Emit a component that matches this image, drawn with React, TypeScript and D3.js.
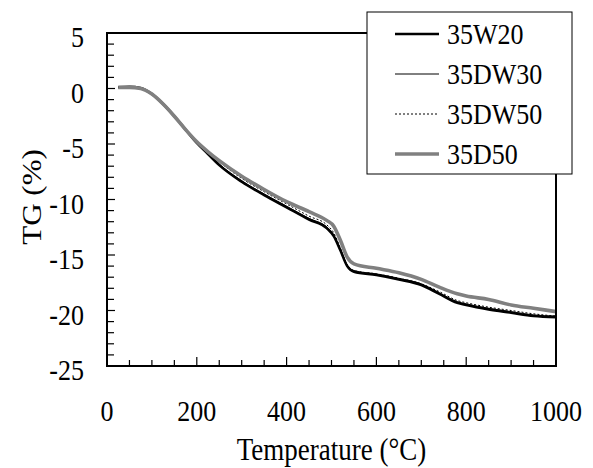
import React from "react";
import * as d3 from "d3";

const temps = [25, 50, 75, 100, 125, 150, 175, 200, 225, 250, 300, 350, 400, 450, 490, 505, 520, 535, 550, 600, 650, 700, 740, 780, 800, 850, 900, 950, 1000];
const s35W20 = [0.1, 0.15, 0.05, -0.5, -1.4, -2.5, -3.7, -4.9, -5.9, -6.9, -8.4, -9.6, -10.7, -11.8, -12.6, -13.3, -14.6, -16.0, -16.5, -16.8, -17.2, -17.7, -18.5, -19.3, -19.5, -19.9, -20.2, -20.5, -20.6];
const s35DW30 = [0.1, 0.15, 0.05, -0.5, -1.4, -2.5, -3.7, -4.85, -5.8, -6.8, -8.3, -9.5, -10.6, -11.7, -12.5, -13.2, -14.5, -15.9, -16.4, -16.7, -17.1, -17.6, -18.4, -19.2, -19.4, -19.8, -20.1, -20.4, -20.5];
const s35DW50 = [0.1, 0.1, 0.0, -0.5, -1.4, -2.5, -3.7, -4.8, -5.7, -6.6, -8.1, -9.3, -10.4, -11.5, -12.3, -13.0, -14.4, -15.9, -16.4, -16.7, -17.1, -17.6, -18.3, -19.1, -19.3, -19.7, -20.0, -20.3, -20.5];
const s35D50 = [0.1, 0.1, 0.0, -0.5, -1.4, -2.5, -3.7, -4.8, -5.7, -6.5, -7.9, -9.1, -10.2, -11.1, -11.9, -12.4, -13.7, -15.2, -15.8, -16.2, -16.6, -17.2, -17.9, -18.5, -18.7, -19.0, -19.5, -19.8, -20.1];

const seriesNames = ["35W20", "35DW30", "35DW50", "35D50"];
const seriesValues = [s35W20, s35DW30, s35DW50, s35D50];
const xTickLabels = [0, 200, 400, 600, 800, 1000];
const yTickLabels = [5, 0, -5, -10, -15, -20, -25];

const styles = [
  { stroke: "#000", width: 2.6, dash: undefined as string | undefined },
  { stroke: "#000", width: 1, dash: undefined },
  { stroke: "#000", width: 1, dash: "2,2" },
  { stroke: "#808080", width: 3.6, dash: undefined },
];

const FONT = "'Liberation Serif', 'Times New Roman', serif";
const SY = 1.15;

export default function App() {
  const W = 593, H = 468;
  const x = d3.scaleLinear().domain([0, 1000]).range([107, 556]);
  const y = d3.scaleLinear().domain([-25, 5]).range([366, 33]);
  const line = d3
    .line<[number, number]>()
    .x((d) => x(d[0]))
    .y((d) => y(d[1]))
    .curve(d3.curveMonotoneX);

  const xMinor = d3.range(0, 1001, 50);
  const yMinor = d3.range(-25, 6, 1);

  const legX = 367, legY = 12, legW = 205, legH = 162;

  return (
    <svg
      width={W}
      height={H}
      style={{ position: "absolute", left: 0, top: 0, background: "#fff" }}
      fontFamily={FONT}
    >
      <rect x={0} y={0} width={W} height={H} fill="#fff" />
      {/* ticks */}
      {xMinor.map((t) => (
        <line key={"xt" + t} x1={x(t)} x2={x(t)} y1={y(-25)} y2={y(-25) - (t % 200 === 0 ? 9 : 6)} stroke="#000" strokeWidth={1.2} />
      ))}
      {yMinor.map((v) => (
        <line key={"yt" + v} x1={x(0)} x2={x(0) + (v % 5 === 0 ? 8 : 7)} y1={y(v)} y2={y(v)} stroke="#000" strokeWidth={1.2} />
      ))}
      {/* series */}
      {seriesValues.map((vals, i) => (
        <path
          key={seriesNames[i]}
          d={line(temps.map((t, j) => [t, vals[j]] as [number, number])) || ""}
          fill="none"
          stroke={styles[i].stroke}
          strokeWidth={styles[i].width}
          strokeDasharray={styles[i].dash}
          strokeLinejoin="round"
        />
      ))}
      {/* frame */}
      <rect x={x(0)} y={y(5)} width={x(1000) - x(0)} height={y(-25) - y(5)} fill="none" stroke="#000" strokeWidth={2} />
      {/* tick labels */}
      {xTickLabels.map((t) => (
        <text key={"xl" + t} transform={`translate(${x(t)},${421}) scale(1,${SY})`} textAnchor="middle" fontSize={26}>
          {t}
        </text>
      ))}
      {yTickLabels.map((v) => (
        <text key={"yl" + v} transform={`translate(84,${y(v) + 4}) scale(1,${SY})`} textAnchor="end" dominantBaseline="central" fontSize={26}>
          {v}
        </text>
      ))}
      {/* axis titles */}
      <text transform={`translate(${(x(0) + x(1000)) / 2},460) scale(1,${SY})`} textAnchor="middle" fontSize={27}>
        Temperature (°C)
      </text>
      <text transform={`translate(41,197) scale(1,${SY}) rotate(-90)`} textAnchor="middle" fontSize={27}>
        TG (%)
      </text>
      {/* legend */}
      <rect x={legX} y={legY} width={legW} height={legH} fill="#fff" stroke="#000" strokeWidth={1} />
      {seriesNames.map((n, i) => {
        const cy = 34 + i * 40;
        return (
          <g key={"lg" + n}>
            <line x1={395} x2={439} y1={cy} y2={cy} stroke={styles[i].stroke} strokeWidth={styles[i].width} strokeDasharray={styles[i].dash} />
            <text transform={`translate(447,${cy}) scale(1,${SY})`} dominantBaseline="central" fontSize={26}>
              {n}
            </text>
          </g>
        );
      })}
    </svg>
  );
}
